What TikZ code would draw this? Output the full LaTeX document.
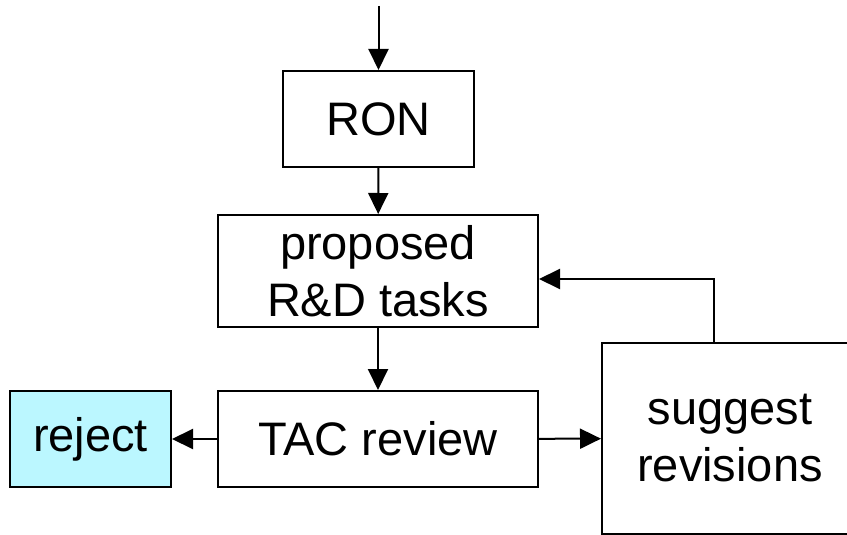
\documentclass[tikz,border=0pt]{standalone}
\usepackage{fontspec}
\setmainfont{Liberation Sans}
\usetikzlibrary{arrows.meta}
\definecolor{RejectCyan}{RGB}{187,247,255}

\begin{document}
\begin{tikzpicture}[x=0.5pt, y=-0.5pt, every node/.style={font=\fontsize{23.5}{28.5}\selectfont}]
	\tikzstyle{box} = [draw, line width=1pt, rectangle, inner sep=0pt, align=center]
	\tikzstyle{flow} = [line width=1pt, -{Triangle[length=10.5pt, width=10pt]}]
	\useasboundingbox (0,0) rectangle (847,535);

	\node[box, minimum width=95.5pt, minimum height=48pt] (ron) at (378.5,119) {RON};
	\node[box, minimum width=160pt, minimum height=56pt] (prop) at (378,271) {proposed\\R\&D tasks};
	\node[box, minimum width=160pt, minimum height=48pt] (tac) at (378,439) {TAC review};
	\node[box, fill=RejectCyan, minimum width=80.5pt, minimum height=48pt] (rej) at (90.5,439) {reject};
	\node[box, minimum width=128pt, minimum height=95.5pt] (sug) at (730,438.5) {suggest\\revisions};
	\coordinate (start) at (378.5,6);

	\draw[flow] (start) -- (ron);
	\draw[flow] (ron) -- (prop);
	\draw[flow] (prop) -- (tac);
	\draw[flow] (tac) -- (rej);
	\draw[flow] (tac) -- (sug);
	\draw[flow] ([xshift=-8pt]sug.north) |- ([yshift=-4pt]prop.east);
\end{tikzpicture}
\end{document}
